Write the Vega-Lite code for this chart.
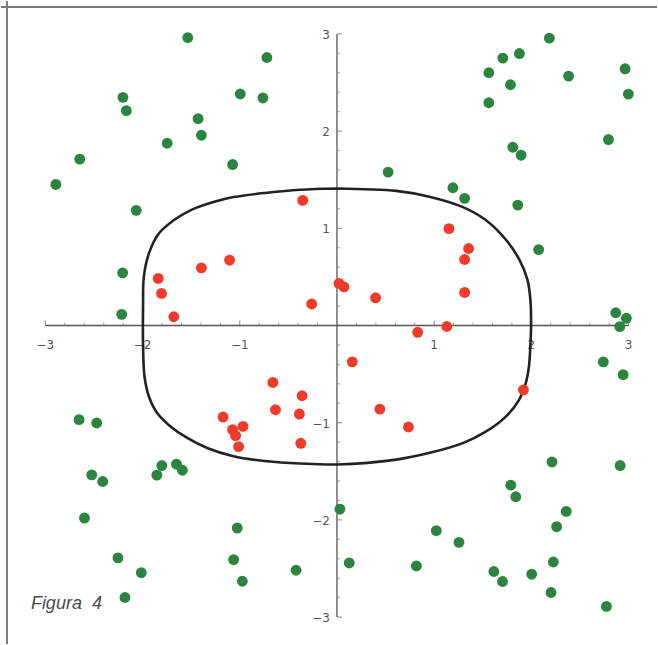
{
  "$schema": "https://vega.github.io/schema/vega-lite/v6.json",
  "width": 658,
  "height": 645,
  "autosize": {"type": "fit", "contains": "padding"},
  "padding": 0,
  "background": "white",
  "config": {"view": {"stroke": null}},
  "data": {"values": [{"one": 1}]},
  "datasets": {
    "pts": [
      {"x": -1.535, "y": 2.962, "c": "out"}, {"x": -0.721, "y": 2.757, "c": "out"}, {"x": -2.202, "y": 2.347, "c": "out"}, {"x": -2.167, "y": 2.21, "c": "out"},
      {"x": -0.995, "y": 2.382, "c": "out"}, {"x": -0.762, "y": 2.341, "c": "out"}, {"x": -1.429, "y": 2.128, "c": "out"}, {"x": -1.395, "y": 1.957, "c": "out"},
      {"x": -1.747, "y": 1.875, "c": "out"}, {"x": -2.646, "y": 1.711, "c": "out"}, {"x": -2.892, "y": 1.451, "c": "out"}, {"x": -1.074, "y": 1.656, "c": "out"},
      {"x": -2.065, "y": 1.185, "c": "out"}, {"x": -2.205, "y": 0.542, "c": "out"}, {"x": -2.215, "y": 0.115, "c": "out"},
      {"x": 2.185, "y": 2.956, "c": "out"}, {"x": 1.877, "y": 2.798, "c": "out"}, {"x": 1.706, "y": 2.751, "c": "out"}, {"x": 1.562, "y": 2.6, "c": "out"},
      {"x": 1.785, "y": 2.477, "c": "out"}, {"x": 1.562, "y": 2.292, "c": "out"}, {"x": 2.383, "y": 2.566, "c": "out"}, {"x": 2.964, "y": 2.641, "c": "out"},
      {"x": 2.998, "y": 2.381, "c": "out"}, {"x": 2.793, "y": 1.913, "c": "out"}, {"x": 1.809, "y": 1.834, "c": "out"}, {"x": 1.894, "y": 1.752, "c": "out"},
      {"x": 0.526, "y": 1.578, "c": "out"}, {"x": 1.193, "y": 1.417, "c": "out"}, {"x": 1.313, "y": 1.308, "c": "out"}, {"x": 1.86, "y": 1.239, "c": "out"},
      {"x": 2.075, "y": 0.781, "c": "out"}, {"x": 2.868, "y": 0.131, "c": "out"}, {"x": 2.977, "y": 0.074, "c": "out"}, {"x": 2.909, "y": -0.012, "c": "out"},
      {"x": 2.74, "y": -0.375, "c": "out"}, {"x": 2.944, "y": -0.505, "c": "out"}, {"x": 2.212, "y": -1.404, "c": "out"}, {"x": 2.913, "y": -1.441, "c": "out"},
      {"x": 1.788, "y": -1.643, "c": "out"}, {"x": 1.839, "y": -1.762, "c": "out"}, {"x": 2.359, "y": -1.913, "c": "out"}, {"x": 2.26, "y": -2.07, "c": "out"},
      {"x": 0.03, "y": -1.89, "c": "out"}, {"x": 1.022, "y": -2.111, "c": "out"}, {"x": 1.255, "y": -2.231, "c": "out"}, {"x": 0.126, "y": -2.443, "c": "out"},
      {"x": 0.817, "y": -2.474, "c": "out"}, {"x": 1.614, "y": -2.531, "c": "out"}, {"x": 1.703, "y": -2.634, "c": "out"}, {"x": 2.003, "y": -2.559, "c": "out"},
      {"x": 2.226, "y": -2.433, "c": "out"}, {"x": 2.202, "y": -2.747, "c": "out"}, {"x": 2.772, "y": -2.89, "c": "out"},
      {"x": -2.653, "y": -0.969, "c": "out"}, {"x": -2.472, "y": -1.003, "c": "out"}, {"x": -2.523, "y": -1.537, "c": "out"}, {"x": -2.41, "y": -1.605, "c": "out"},
      {"x": -1.802, "y": -1.441, "c": "out"}, {"x": -1.853, "y": -1.54, "c": "out"}, {"x": -1.651, "y": -1.427, "c": "out"}, {"x": -1.59, "y": -1.489, "c": "out"},
      {"x": -2.598, "y": -1.981, "c": "out"}, {"x": -1.026, "y": -2.084, "c": "out"}, {"x": -2.253, "y": -2.391, "c": "out"}, {"x": -2.013, "y": -2.542, "c": "out"},
      {"x": -1.063, "y": -2.409, "c": "out"}, {"x": -0.974, "y": -2.631, "c": "out"}, {"x": -0.421, "y": -2.518, "c": "out"}, {"x": -2.181, "y": -2.798, "c": "out"},
      {"x": -0.352, "y": 1.287, "c": "in"}, {"x": -1.105, "y": 0.672, "c": "in"}, {"x": -1.395, "y": 0.593, "c": "in"}, {"x": -1.839, "y": 0.484, "c": "in"},
      {"x": -1.805, "y": 0.33, "c": "in"}, {"x": -1.679, "y": 0.09, "c": "in"}, {"x": -0.26, "y": 0.221, "c": "in"}, {"x": 0.021, "y": 0.433, "c": "in"},
      {"x": 0.072, "y": 0.398, "c": "in"}, {"x": 0.397, "y": 0.285, "c": "in"}, {"x": 1.313, "y": 0.34, "c": "in"}, {"x": 1.152, "y": 0.997, "c": "in"},
      {"x": 1.354, "y": 0.792, "c": "in"}, {"x": 1.313, "y": 0.679, "c": "in"}, {"x": 1.13, "y": -0.01, "c": "in"}, {"x": 0.83, "y": -0.07, "c": "in"},
      {"x": 0.157, "y": -0.374, "c": "in"}, {"x": 0.441, "y": -0.86, "c": "in"}, {"x": 0.735, "y": -1.044, "c": "in"}, {"x": 1.918, "y": -0.662, "c": "in"},
      {"x": -0.66, "y": -0.586, "c": "in"}, {"x": -0.359, "y": -0.723, "c": "in"}, {"x": -0.633, "y": -0.867, "c": "in"}, {"x": -0.387, "y": -0.911, "c": "in"},
      {"x": -0.372, "y": -1.212, "c": "in"}, {"x": -1.172, "y": -0.942, "c": "in"}, {"x": -0.967, "y": -1.038, "c": "in"}, {"x": -1.074, "y": -1.072, "c": "in"},
      {"x": -1.043, "y": -1.133, "c": "in"}, {"x": -1.012, "y": -1.246, "c": "in"}
    ],
    "curve": [
      {"o": 1, "x": 0, "y": 1.41}, {"o": 2, "x": 0.61, "y": 1.385}, {"o": 3, "x": 0.95, "y": 1.325}, {"o": 4, "x": 1.29, "y": 1.22},
      {"o": 5, "x": 1.53, "y": 1.085}, {"o": 6, "x": 1.74, "y": 0.88}, {"o": 7, "x": 1.875, "y": 0.68}, {"o": 8, "x": 1.96, "y": 0.47},
      {"o": 9, "x": 1.99, "y": 0.26}, {"o": 10, "x": 1.997, "y": 0}, {"o": 11, "x": 1.99, "y": -0.2}, {"o": 12, "x": 1.975, "y": -0.42},
      {"o": 13, "x": 1.94, "y": -0.6}, {"o": 14, "x": 1.87, "y": -0.77}, {"o": 15, "x": 1.74, "y": -0.935}, {"o": 16, "x": 1.535, "y": -1.09},
      {"o": 17, "x": 1.295, "y": -1.21}, {"o": 18, "x": 0.955, "y": -1.31}, {"o": 19, "x": 0.61, "y": -1.38}, {"o": 20, "x": 0, "y": -1.43},
      {"o": 21, "x": -0.38, "y": -1.42}, {"o": 22, "x": -0.72, "y": -1.397}, {"o": 23, "x": -1.065, "y": -1.345}, {"o": 24, "x": -1.335, "y": -1.26},
      {"o": 25, "x": -1.54, "y": -1.157}, {"o": 26, "x": -1.713, "y": -1.038}, {"o": 27, "x": -1.85, "y": -0.9}, {"o": 28, "x": -1.935, "y": -0.73},
      {"o": 29, "x": -1.98, "y": -0.525}, {"o": 30, "x": -1.995, "y": -0.2}, {"o": 31, "x": -1.995, "y": 0.2}, {"o": 32, "x": -1.987, "y": 0.5},
      {"o": 33, "x": -1.935, "y": 0.74}, {"o": 34, "x": -1.833, "y": 0.946}, {"o": 35, "x": -1.68, "y": 1.082}, {"o": 36, "x": -1.508, "y": 1.185},
      {"o": 37, "x": -1.27, "y": 1.27}, {"o": 38, "x": -1.064, "y": 1.321}, {"o": 39, "x": -0.72, "y": 1.366}, {"o": 40, "x": -0.38, "y": 1.397},
      {"o": 41, "x": 0, "y": 1.41}
    ],
    "ticks": [
      {"v": -3, "k": "major"}, {"v": -2.8, "k": "minor"}, {"v": -2.6, "k": "minor"}, {"v": -2.4, "k": "minor"}, {"v": -2.2, "k": "minor"},
      {"v": -2, "k": "major"}, {"v": -1.8, "k": "minor"}, {"v": -1.6, "k": "minor"}, {"v": -1.4, "k": "minor"}, {"v": -1.2, "k": "minor"},
      {"v": -1, "k": "major"}, {"v": -0.8, "k": "minor"}, {"v": -0.6, "k": "minor"}, {"v": -0.4, "k": "minor"}, {"v": -0.2, "k": "minor"},
      {"v": 0.2, "k": "minor"}, {"v": 0.4, "k": "minor"}, {"v": 0.6, "k": "minor"}, {"v": 0.8, "k": "minor"},
      {"v": 1, "k": "major"}, {"v": 1.2, "k": "minor"}, {"v": 1.4, "k": "minor"}, {"v": 1.6, "k": "minor"}, {"v": 1.8, "k": "minor"},
      {"v": 2, "k": "major"}, {"v": 2.2, "k": "minor"}, {"v": 2.4, "k": "minor"}, {"v": 2.6, "k": "minor"}, {"v": 2.8, "k": "minor"},
      {"v": 3, "k": "major"}
    ],
    "labels": [
      {"v": -3, "t": "−3"}, {"v": -2, "t": "−2"}, {"v": -1, "t": "−1"}, {"v": 1, "t": "1"}, {"v": 2, "t": "2"}, {"v": 3, "t": "3"}
    ]
  },
  "layer": [
    {
      "mark": {"type": "rule", "stroke": "#7a7a7a", "strokeWidth": 2},
      "encoding": {
        "x": {"datum": -3.395, "type": "quantitative", "scale": {"domain": [-3.4564, 3.2923], "nice": false, "zero": false}, "axis": null}
      }
    },
    {
      "mark": {"type": "rule", "stroke": "#7a7a7a", "strokeWidth": 2},
      "encoding": {
        "y": {"datum": 3.277, "type": "quantitative", "scale": {"domain": [-3.2769, 3.3385], "nice": false, "zero": false}, "axis": null}
      }
    },
    {
      "mark": {"type": "rule", "stroke": "#555555", "strokeWidth": 1.3},
      "encoding": {
        "x": {"datum": -3, "type": "quantitative"},
        "x2": {"datum": 3},
        "y": {"datum": 0, "type": "quantitative"}
      }
    },
    {
      "mark": {"type": "rule", "stroke": "#555555", "strokeWidth": 1.3},
      "encoding": {
        "y": {"datum": -3, "type": "quantitative"},
        "y2": {"datum": 3},
        "x": {"datum": 0, "type": "quantitative"}
      }
    },
    {
      "data": {"name": "ticks"},
      "transform": [{"filter": "datum.k == 'minor'"}],
      "mark": {"type": "tick", "orient": "vertical", "size": 3, "thickness": 1, "color": "#777777", "yOffset": -1.5},
      "encoding": {
        "x": {"field": "v", "type": "quantitative"},
        "y": {"datum": 0, "type": "quantitative"}
      }
    },
    {
      "data": {"name": "ticks"},
      "transform": [{"filter": "datum.k == 'major'"}],
      "mark": {"type": "tick", "orient": "vertical", "size": 5, "thickness": 1, "color": "#555555", "yOffset": -2.5},
      "encoding": {
        "x": {"field": "v", "type": "quantitative"},
        "y": {"datum": 0, "type": "quantitative"}
      }
    },
    {
      "data": {"name": "ticks"},
      "transform": [{"filter": "datum.k == 'minor'"}],
      "mark": {"type": "tick", "orient": "horizontal", "size": 3, "thickness": 1, "color": "#777777", "xOffset": 1.5},
      "encoding": {
        "y": {"field": "v", "type": "quantitative"},
        "x": {"datum": 0, "type": "quantitative"}
      }
    },
    {
      "data": {"name": "ticks"},
      "transform": [{"filter": "datum.k == 'major'"}],
      "mark": {"type": "tick", "orient": "horizontal", "size": 5, "thickness": 1, "color": "#555555", "xOffset": 2.5},
      "encoding": {
        "y": {"field": "v", "type": "quantitative"},
        "x": {"datum": 0, "type": "quantitative"}
      }
    },
    {
      "data": {"name": "labels"},
      "mark": {"type": "text", "font": "DejaVu Sans", "fontSize": 12, "color": "#555555", "align": "center", "baseline": "middle", "dy": 20},
      "encoding": {
        "x": {"field": "v", "type": "quantitative"},
        "y": {"datum": 0, "type": "quantitative"},
        "text": {"field": "t"}
      }
    },
    {
      "data": {"name": "labels"},
      "mark": {"type": "text", "font": "DejaVu Sans", "fontSize": 12, "color": "#555555", "align": "right", "baseline": "middle", "dx": -7, "dy": 1},
      "encoding": {
        "y": {"field": "v", "type": "quantitative"},
        "x": {"datum": 0, "type": "quantitative"},
        "text": {"field": "t"}
      }
    },
    {
      "data": {"name": "curve"},
      "mark": {"type": "line", "interpolate": "catmull-rom", "stroke": "#222222", "strokeWidth": 2.6},
      "encoding": {
        "x": {"field": "x", "type": "quantitative"},
        "y": {"field": "y", "type": "quantitative"},
        "order": {"field": "o", "type": "quantitative"}
      }
    },
    {
      "data": {"name": "pts"},
      "mark": {"type": "circle", "size": 118, "opacity": 1},
      "encoding": {
        "x": {"field": "x", "type": "quantitative"},
        "y": {"field": "y", "type": "quantitative"},
        "color": {"field": "c", "type": "nominal", "scale": {"domain": ["out", "in"], "range": ["#2b8540", "#f03a2a"]}, "legend": null}
      }
    },
    {
      "mark": {"type": "text", "text": "Figura\u00a0\u00a04", "font": "Liberation Sans", "fontStyle": "italic", "fontSize": 18, "color": "#4a4a4a", "align": "left", "baseline": "alphabetic"},
      "encoding": {
        "x": {"datum": -3.149, "type": "quantitative"},
        "y": {"datum": -2.918, "type": "quantitative"}
      }
    }
  ]
}
